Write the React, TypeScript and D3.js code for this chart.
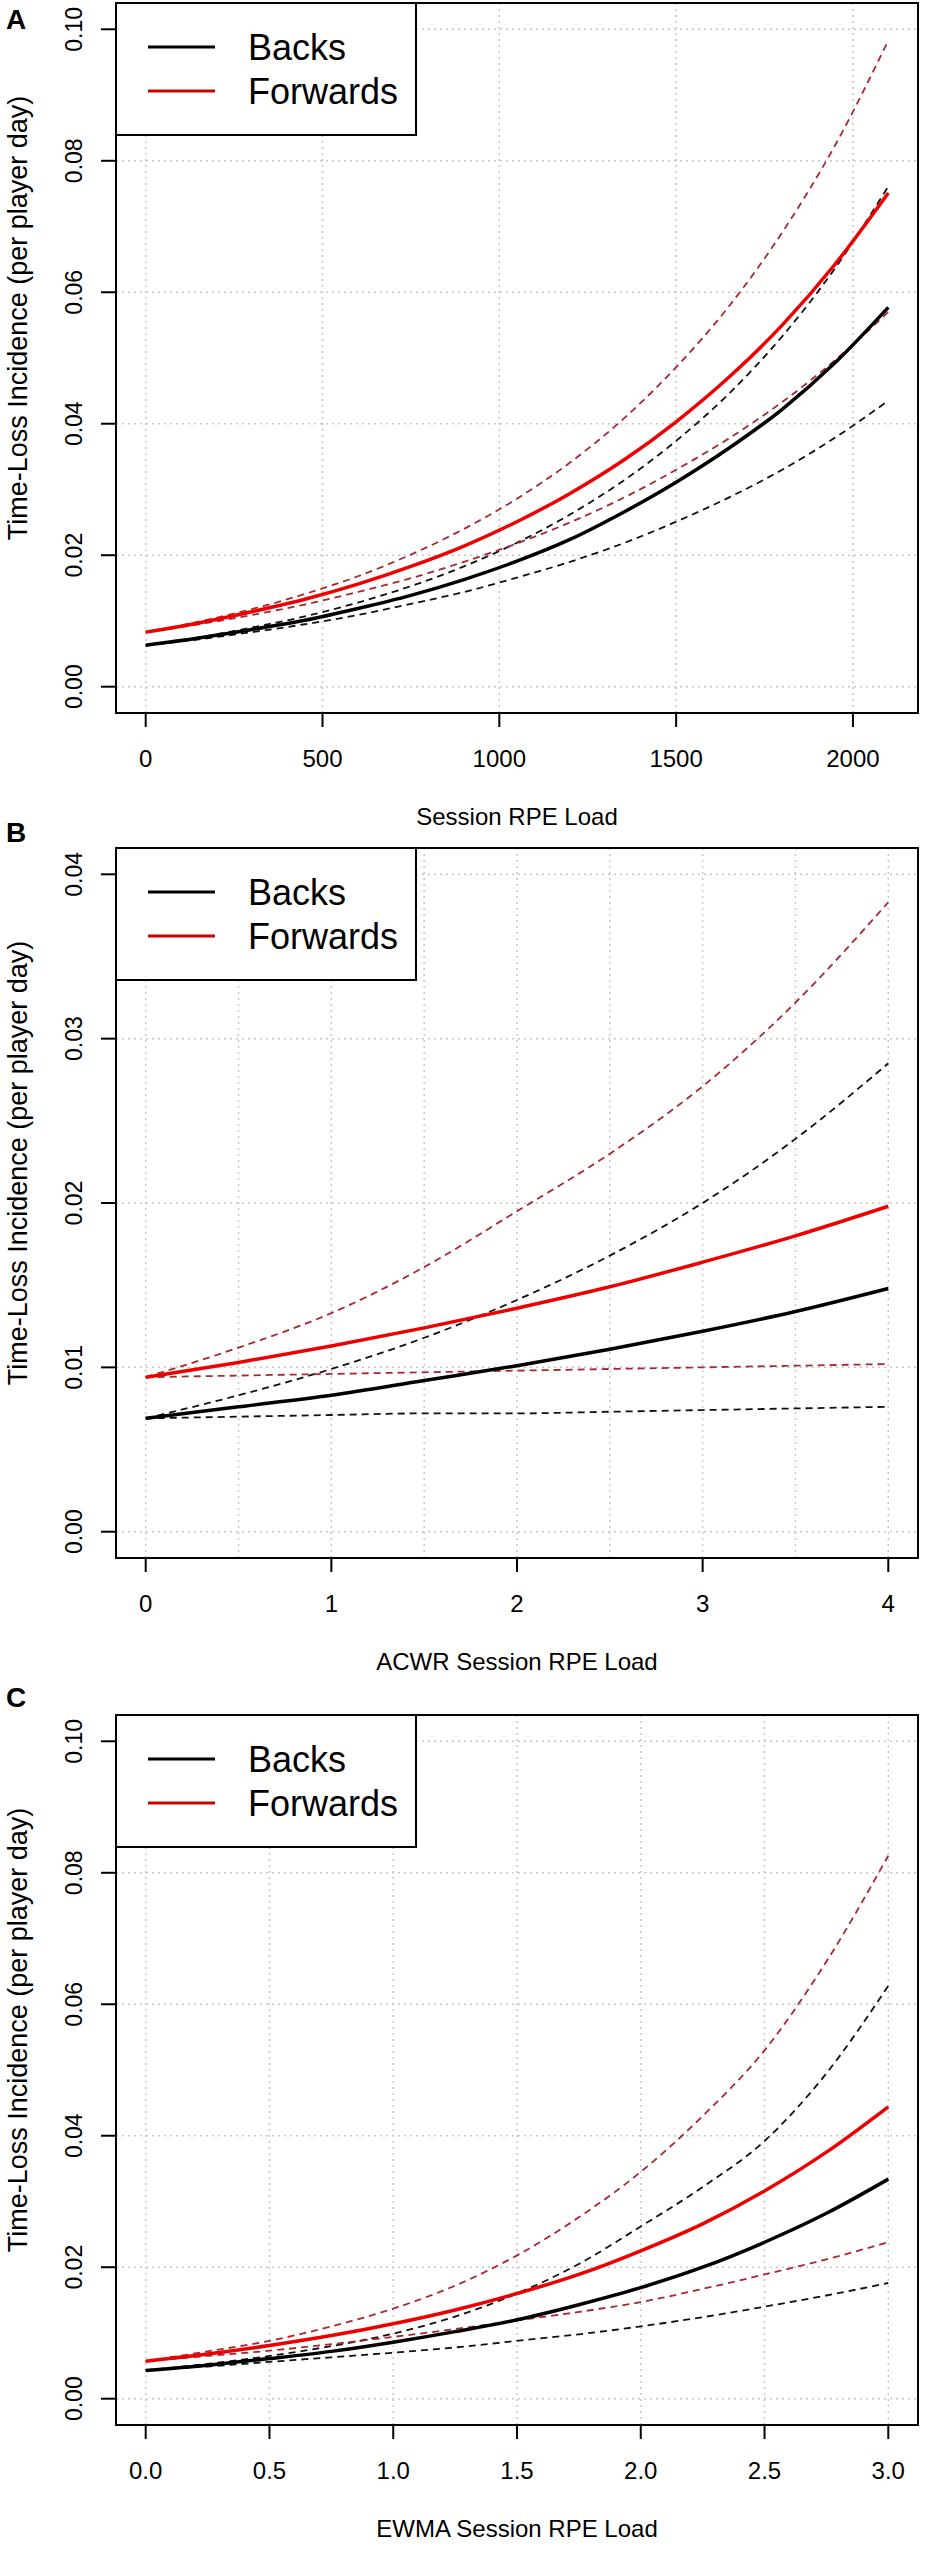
import React from 'react';
import * as d3 from 'd3';

// ---- data ----
const loadA = [0, 150, 300, 450, 600, 750, 900, 1050, 1200, 1350, 1500, 1650, 1800, 1950, 2100];
const backsA = [0.0063, 0.0074, 0.0087, 0.0101, 0.0119, 0.0139, 0.0163, 0.0191, 0.0224, 0.0265, 0.0311, 0.0363, 0.0422, 0.0493, 0.0577];
const backsLoA = [0.0063, 0.0072, 0.0083, 0.0095, 0.0109, 0.0126, 0.0144, 0.0166, 0.019, 0.0218, 0.0251, 0.0288, 0.033, 0.0379, 0.0435];
const backsHiA = [0.0063, 0.0075, 0.009, 0.0107, 0.0128, 0.0153, 0.0183, 0.0219, 0.0262, 0.0313, 0.0374, 0.0446, 0.0533, 0.0637, 0.0761];
const forwardsA = [0.0083, 0.0097, 0.0114, 0.0133, 0.0156, 0.0183, 0.0214, 0.0251, 0.0294, 0.0344, 0.0403, 0.0471, 0.055, 0.0643, 0.0751];
const fwdLoA = [0.0083, 0.0095, 0.0109, 0.0125, 0.0144, 0.0165, 0.019, 0.0218, 0.025, 0.0287, 0.033, 0.0378, 0.0433, 0.0497, 0.057];
const fwdHiA = [0.0083, 0.0099, 0.0118, 0.0141, 0.0168, 0.0201, 0.024, 0.0286, 0.0341, 0.0407, 0.0486, 0.0579, 0.0691, 0.0824, 0.0983];

const acwr = [0, 0.5, 1, 1.5, 2, 2.5, 3, 3.5, 4];
const backsB = [0.0069, 0.0076, 0.0083, 0.0092, 0.0101, 0.0111, 0.0122, 0.0134, 0.0148];
const backsLoB = [0.0069, 0.007, 0.0071, 0.0072, 0.0072, 0.0073, 0.0074, 0.0075, 0.0076];
const backsHiB = [0.0069, 0.0083, 0.0099, 0.0118, 0.0141, 0.0168, 0.02, 0.0239, 0.0285];
const forwardsB = [0.0094, 0.0103, 0.0113, 0.0124, 0.0136, 0.0149, 0.0164, 0.018, 0.0198];
const fwdLoB = [0.0094, 0.0095, 0.0096, 0.0097, 0.0098, 0.0099, 0.01, 0.0101, 0.0102];
const fwdHiB = [0.0094, 0.0112, 0.0133, 0.0161, 0.0195, 0.023, 0.0271, 0.0322, 0.0383];

const ewma = [0, 0.25, 0.5, 0.75, 1, 1.25, 1.5, 1.75, 2, 2.25, 2.5, 2.75, 3];
const backsC = [0.0043, 0.0051, 0.0061, 0.0072, 0.0086, 0.0102, 0.012, 0.0143, 0.0169, 0.02, 0.0238, 0.0282, 0.0334];
const backsLoC = [0.0043, 0.0049, 0.0056, 0.0063, 0.007, 0.0078, 0.0088, 0.0098, 0.011, 0.0124, 0.014, 0.0157, 0.0176];
const backsHiC = [0.0043, 0.0053, 0.0065, 0.008, 0.0099, 0.0125, 0.016, 0.0205, 0.0262, 0.0322, 0.0392, 0.0495, 0.0628];
const forwardsC = [0.0057, 0.0068, 0.0081, 0.0096, 0.0114, 0.0135, 0.016, 0.0189, 0.0225, 0.0266, 0.0316, 0.0375, 0.0444];
const fwdLoC = [0.0057, 0.0065, 0.0073, 0.0083, 0.0094, 0.0106, 0.0119, 0.0132, 0.0147, 0.0167, 0.0189, 0.0212, 0.0238];
const fwdHiC = [0.0057, 0.0072, 0.0088, 0.011, 0.0137, 0.0172, 0.0218, 0.0276, 0.0345, 0.043, 0.053, 0.0665, 0.0826];

const legendLabels = ['Backs', 'Forwards'];
const yTitle = 'Time-Loss Incidence (per player day)';

// ---- layout ----
const W = 926;
const H = 2550;
const boxLeft = 116;
const boxRight = 918;
const boxH = 710;
const font = 'Arial, "Liberation Sans", sans-serif';
const RED = '#ee0000';
const RED_DASH = '#a8282e';

interface PanelProps {
  letter: string;
  letterY: number;
  top: number;
  xTitle: string;
  xs: number[];
  backs: number[];
  backsLo: number[];
  backsHi: number[];
  fwd: number[];
  fwdLo: number[];
  fwdHi: number[];
  xlim: [number, number];
  ylim: [number, number];
  xTicks: number[];
  xGrid: number[];
  yTicks: number[];
  xFmt: (v: number) => string;
}

const Panel = (p: PanelProps) => {
  const bottom = p.top + boxH;
  const xr = p.xlim[1] - p.xlim[0];
  const yr = p.ylim[1] - p.ylim[0];
  const x = d3.scaleLinear()
    .domain([p.xlim[0] - 0.04 * xr, p.xlim[1] + 0.04 * xr])
    .range([boxLeft, boxRight]);
  const y = d3.scaleLinear()
    .domain([p.ylim[0] - 0.04 * yr, p.ylim[1] + 0.04 * yr])
    .range([bottom, p.top]);

  const line = (vals: number[]) =>
    d3.line<number>()
      .x((_, i) => x(p.xs[i]))
      .y(d => y(d))
      .curve(d3.curveMonotoneX)(vals) || '';

  const yFmt = d3.format('.2f');
  const cy = (p.top + bottom) / 2;
  const cx = (boxLeft + boxRight) / 2;

  return (
    <g fontFamily={font}>
      <text x={6} y={p.letterY} fontSize={28} fontWeight="bold">{p.letter}</text>

      {/* grid */}
      {p.xGrid.map(v => (
        <line key={'gx' + v} x1={x(v)} x2={x(v)} y1={p.top} y2={bottom}
          stroke="#c8c8c8" strokeWidth={1.5} strokeDasharray="2,4" />
      ))}
      {p.yTicks.map(v => (
        <line key={'gy' + v} x1={boxLeft} x2={boxRight} y1={y(v)} y2={y(v)}
          stroke="#c8c8c8" strokeWidth={1.5} strokeDasharray="2,4" />
      ))}

      {/* confidence bands */}
      <path d={line(p.backsLo)} fill="none" stroke="#111" strokeWidth={1.8} strokeDasharray="7,5" />
      <path d={line(p.backsHi)} fill="none" stroke="#111" strokeWidth={1.8} strokeDasharray="7,5" />
      <path d={line(p.fwdLo)} fill="none" stroke={RED_DASH} strokeWidth={1.8} strokeDasharray="7,5" />
      <path d={line(p.fwdHi)} fill="none" stroke={RED_DASH} strokeWidth={1.8} strokeDasharray="7,5" />
      {/* estimates */}
      <path d={line(p.backs)} fill="none" stroke="#000" strokeWidth={3.5} />
      <path d={line(p.fwd)} fill="none" stroke={RED} strokeWidth={3.5} />

      {/* box */}
      <rect x={boxLeft} y={p.top} width={boxRight - boxLeft} height={boxH}
        fill="none" stroke="#000" strokeWidth={2} />

      {/* y axis */}
      {p.yTicks.map(v => (
        <g key={'ty' + v}>
          <line x1={boxLeft - 15} x2={boxLeft} y1={y(v)} y2={y(v)} stroke="#000" strokeWidth={2} />
          <text transform={`translate(${boxLeft - 34},${y(v)}) rotate(-90)`}
            textAnchor="middle" fontSize={23}>{yFmt(v)}</text>
        </g>
      ))}
      <text transform={`translate(${boxLeft - 89},${cy - 40}) rotate(-90)`}
        textAnchor="middle" fontSize={27}>{yTitle}</text>

      {/* x axis */}
      {p.xTicks.map(v => (
        <g key={'tx' + v}>
          <line x1={x(v)} x2={x(v)} y1={bottom} y2={bottom + 14} stroke="#000" strokeWidth={2} />
          <text x={x(v)} y={bottom + 54} textAnchor="middle" fontSize={24}>{p.xFmt(v)}</text>
        </g>
      ))}
      <text x={cx} y={bottom + 112} textAnchor="middle" fontSize={24}>{p.xTitle}</text>

      {/* legend */}
      <rect x={boxLeft} y={p.top} width={300} height={132} fill="#fff" stroke="#000" strokeWidth={2} />
      {legendLabels.map((lab, i) => (
        <g key={lab}>
          <line x1={148} x2={215} y1={p.top + 44 + i * 44} y2={p.top + 44 + i * 44}
            stroke={i === 0 ? '#000' : '#d10000'} strokeWidth={3} />
          <text x={248} y={p.top + 57 + i * 44} fontSize={36}>{lab}</text>
        </g>
      ))}
    </g>
  );
};

export default function App() {
  return (
    <div style={{ position: 'absolute', left: 0, top: 0, width: W, height: H, background: '#fff' }}>
      <svg width={W} height={H} viewBox={`0 0 ${W} ${H}`} style={{ display: 'block' }}>
        <rect width={W} height={H} fill="#fff" />
        <Panel letter="A" letterY={29} top={3} xTitle="Session RPE Load"
          xs={loadA} backs={backsA} backsLo={backsLoA} backsHi={backsHiA}
          fwd={forwardsA} fwdLo={fwdLoA} fwdHi={fwdHiA}
          xlim={[0, 2100]} ylim={[0, 0.1]}
          xTicks={[0, 500, 1000, 1500, 2000]} xGrid={[0, 500, 1000, 1500, 2000]}
          yTicks={[0, 0.02, 0.04, 0.06, 0.08, 0.1]} xFmt={d3.format('d')} />
        <Panel letter="B" letterY={842} top={848} xTitle="ACWR Session RPE Load"
          xs={acwr} backs={backsB} backsLo={backsLoB} backsHi={backsHiB}
          fwd={forwardsB} fwdLo={fwdLoB} fwdHi={fwdHiB}
          xlim={[0, 4]} ylim={[0, 0.04]}
          xTicks={[0, 1, 2, 3, 4]} xGrid={[0, 0.5, 1, 1.5, 2, 2.5, 3, 3.5, 4]}
          yTicks={[0, 0.01, 0.02, 0.03, 0.04]} xFmt={d3.format('d')} />
        <Panel letter="C" letterY={1707} top={1715} xTitle="EWMA Session RPE Load"
          xs={ewma} backs={backsC} backsLo={backsLoC} backsHi={backsHiC}
          fwd={forwardsC} fwdLo={fwdLoC} fwdHi={fwdHiC}
          xlim={[0, 3]} ylim={[0, 0.1]}
          xTicks={[0, 0.5, 1, 1.5, 2, 2.5, 3]} xGrid={[0, 0.5, 1, 1.5, 2, 2.5, 3]}
          yTicks={[0, 0.02, 0.04, 0.06, 0.08, 0.1]} xFmt={d3.format('.1f')} />
      </svg>
    </div>
  );
}
